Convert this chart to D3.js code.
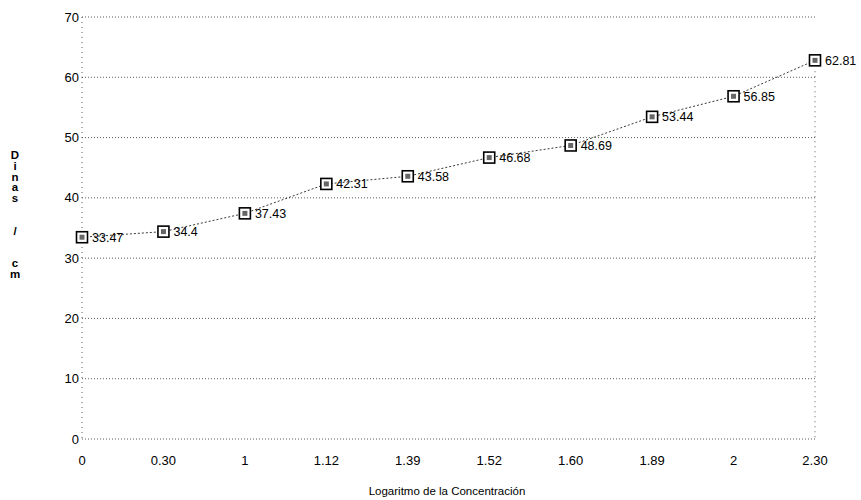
<!DOCTYPE html>
<html>
<head>
<meta charset="utf-8">
<script src="https://cdn.jsdelivr.net/npm/d3@7"></script>
<style>
  body { margin: 0; background: #fff; }
  svg text { font-family: "Liberation Sans", Arial, sans-serif; fill: #000; }
</style>
</head>
<body>
<svg id="chart" width="861" height="500"></svg>
<script>
// data
const concentracion = ["0", "0.30", "1", "1.12", "1.39", "1.52", "1.60", "1.89", "2", "2.30"];
const dinas = [33.47, 34.4, 37.43, 42.31, 43.58, 46.68, 48.69, 53.44, 56.85, 62.81];
const yTicks = [0, 10, 20, 30, 40, 50, 60, 70];
const yTitle = ["D", "i", "n", "a", "s", " ", " ", "/", " ", " ", "c", "m"];

const svg = d3.select("#chart");

const x = d3.scalePoint()
    .domain(concentracion)
    .range([82, 815]);

const y = d3.scaleLinear()
    .domain([0, 70])
    .range([439, 17]);

// grid
let grid = svg.append("g");
grid.selectAll("line")
    .data(yTicks)
    .enter()
    .append("line")
    .attr("x1", 82)
    .attr("x2", 815)
    .attr("y1", d => y(d))
    .attr("y2", d => y(d))
    .attr("stroke", "#333")
    .attr("stroke-width", 0.8)
    .attr("stroke-dasharray", "1,2");

// left axis + right edge, dotted like the scan
grid.append("line")
    .attr("x1", 82).attr("x2", 82)
    .attr("y1", y(70)).attr("y2", y(0))
    .attr("stroke", "#333")
    .attr("stroke-width", 0.8)
    .attr("stroke-dasharray", "1,4");
grid.append("line")
    .attr("x1", 815).attr("x2", 815)
    .attr("y1", y(61)).attr("y2", y(0))
    .attr("stroke", "#333")
    .attr("stroke-width", 0.8)
    .attr("stroke-dasharray", "1,4");

// y tick labels
svg.append("g")
    .selectAll("text")
    .data(yTicks)
    .enter()
    .append("text")
    .attr("x", 79)
    .attr("y", d => y(d) + 4.5)
    .attr("text-anchor", "end")
    .attr("font-size", 13)
    .text(d => d);

// x tick labels
svg.append("g")
    .selectAll("text")
    .data(concentracion)
    .enter()
    .append("text")
    .attr("x", d => x(d))
    .attr("y", 465)
    .attr("text-anchor", "middle")
    .attr("font-size", 13)
    .text(d => d);

// axis titles
svg.append("text")
    .attr("x", 447)
    .attr("y", 495)
    .attr("text-anchor", "middle")
    .attr("font-size", 11.5)
    .text("Logaritmo de la Concentración");

svg.append("g")
    .selectAll("text")
    .data(yTitle)
    .enter()
    .append("text")
    .attr("x", 15)
    .attr("y", (d, i) => 159 + i * 10.8)
    .attr("text-anchor", "middle")
    .attr("font-size", 11.5)
    .attr("font-weight", "bold")
    .text(d => d);

// series line
let line = d3.line()
    .x((d, i) => x(concentracion[i]))
    .y(d => y(d));

svg.append("path")
    .datum(dinas)
    .attr("d", line)
    .attr("fill", "none")
    .attr("stroke", "#222")
    .attr("stroke-width", 0.9)
    .attr("stroke-dasharray", "2,2");

// markers
let pts = svg.append("g")
    .selectAll("g")
    .data(dinas)
    .enter()
    .append("g")
    .attr("transform", (d, i) => `translate(${x(concentracion[i])},${y(d)})`);

pts.append("rect")
    .attr("x", -5.5).attr("y", -5.5)
    .attr("width", 11).attr("height", 11)
    .attr("fill", "#fff")
    .attr("stroke", "#000")
    .attr("stroke-width", 1.6);
pts.append("rect")
    .attr("x", -2.5).attr("y", -2.5)
    .attr("width", 5).attr("height", 5)
    .attr("fill", "#666");

// value labels
pts.append("text")
    .attr("x", 10)
    .attr("y", 4.5)
    .attr("font-size", 12.5)
    .text(d => d);
</script>
</body>
</html>
